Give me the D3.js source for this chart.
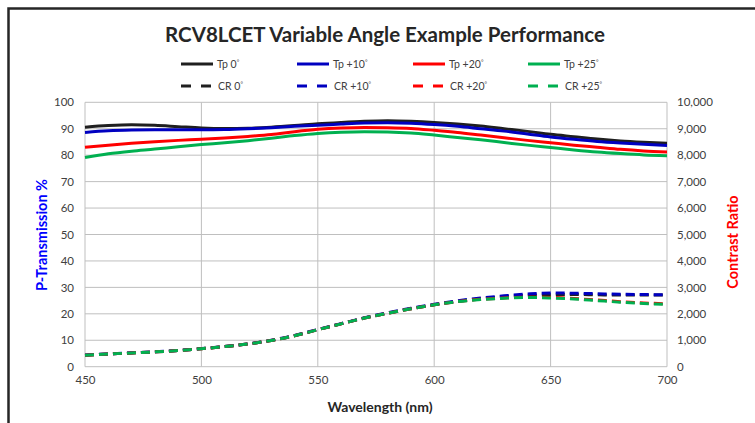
<!DOCTYPE html>
<html><head><meta charset="utf-8">
<script src="https://cdn.jsdelivr.net/npm/d3@7"></script>
<style>body{margin:0;background:#fff}svg{display:block}</style>
</head><body><svg id="c" width="755" height="423"></svg>
<script>
const wavelengths = [450,460,470,480,490,500,510,520,530,540,550,560,570,580,590,600,610,620,630,640,650,660,670,680,690,700];
const tp0  = [90.6,91.2,91.5,91.3,90.8,90.3,90.1,90.2,90.6,91.2,91.9,92.4,92.8,93.0,92.8,92.4,91.8,91.0,90.0,89.0,87.9,87.0,86.1,85.4,84.9,84.5];
const tp10 = [88.6,89.2,89.5,89.6,89.6,89.6,89.7,90.0,90.4,90.9,91.3,91.8,92.2,92.3,92.1,91.6,90.9,90.0,89.1,88.0,86.9,86.0,85.2,84.6,84.1,83.7];
const tp20 = [83.0,83.8,84.5,85.1,85.6,86.0,86.5,87.1,87.8,88.9,89.8,90.3,90.5,90.4,90.1,89.4,88.6,87.6,86.6,85.6,84.7,83.8,83.0,82.2,81.6,81.2];
const tp25 = [79.1,80.5,81.5,82.3,83.2,84.0,84.7,85.5,86.4,87.4,88.2,88.7,88.9,88.8,88.4,87.6,86.7,85.8,84.8,83.8,82.9,82.0,81.2,80.6,80.1,79.8];
const cr0  = [430,480,520,560,610,680,760,860,990,1170,1400,1620,1840,2020,2190,2340,2470,2570,2650,2700,2720,2730,2720,2710,2710,2710];
const cr10 = [440,485,525,565,615,685,765,865,1000,1180,1410,1630,1850,2040,2210,2360,2490,2600,2680,2750,2790,2780,2760,2740,2730,2720];
const cr20 = [430,480,520,560,610,680,760,860,990,1170,1400,1620,1840,2020,2190,2340,2460,2550,2600,2630,2620,2580,2520,2460,2410,2380];
const cr25 = [430,480,520,560,610,680,760,860,990,1170,1400,1620,1840,2020,2190,2340,2460,2540,2590,2620,2600,2560,2500,2440,2390,2360];
const xTicks = [450,500,550,600,650,700];
const yTicks = [0,10,20,30,40,50,60,70,80,90,100];
const y2Ticks = [0,1000,2000,3000,4000,5000,6000,7000,8000,9000,10000];
const seriesNames = ["Tp 0","Tp +10","Tp +20","Tp +25","CR 0","CR +10","CR +20","CR +25"];
const colors = ["#1f1f1f","#0000c0","#ff0000","#00b050"];

const svg = d3.select("#c");
const FONT = "Lato, 'Open Sans', sans-serif";
const L = 85, R = 667, T = 102.3, B = 366.7;
const x = d3.scaleLinear().domain([450,700]).range([L,R]);
const y = d3.scaleLinear().domain([0,100]).range([B,T]);
const y2 = d3.scaleLinear().domain([0,10000]).range([B,T]);

// outer border
svg.append("path").attr("d","M8.5,430 L8.5,8.5 L760,8.5").attr("fill","none").attr("stroke","#262626").attr("stroke-width",2.5);

// title
svg.append("text").attr("x",385).attr("y",42).attr("text-anchor","middle")
  .attr("font-family",FONT).attr("font-weight","bold").attr("font-size",20.5).attr("fill","#262626")
  .text("RCV8LCET Variable Angle Example Performance");

// grid
const grid = svg.append("g");
yTicks.forEach(t=>grid.append("line").attr("x1",L).attr("x2",R).attr("y1",y(t)).attr("y2",y(t)).attr("stroke","#bfbfbf").attr("stroke-width",1));
xTicks.forEach(t=>grid.append("line").attr("x1",x(t)).attr("x2",x(t)).attr("y1",T).attr("y2",B).attr("stroke","#bfbfbf").attr("stroke-width",1));

// axes
const ax = svg.append("g").attr("transform",`translate(0,${B})`).call(d3.axisBottom(x).tickValues(xTicks).tickSize(0).tickPadding(9));
const ay = svg.append("g").attr("transform",`translate(${L},0)`).call(d3.axisLeft(y).tickValues(yTicks).tickSize(0).tickPadding(11));
const ay2 = svg.append("g").attr("transform",`translate(${R},0)`).call(d3.axisRight(y2).tickValues(y2Ticks).tickSize(0).tickPadding(10).tickFormat(d3.format(",")));
[ax,ay,ay2].forEach(a=>{a.selectAll("text").attr("font-family",FONT).attr("font-size",11.5).attr("fill","#404040");a.select(".domain").remove();});

// axis titles
svg.append("text").attr("x",380).attr("y",412).attr("text-anchor","middle").attr("font-family",FONT).attr("font-weight","bold").attr("font-size",14).attr("fill","#262626").text("Wavelength (nm)");
svg.append("text").attr("transform","translate(47,235) rotate(-90)").attr("text-anchor","middle").attr("font-family",FONT).attr("font-weight","bold").attr("font-size",14.5).attr("fill","#0000ff").text("P-Transmission %");
svg.append("text").attr("transform","translate(738,242) rotate(-90)").attr("text-anchor","middle").attr("font-family",FONT).attr("font-weight","bold").attr("font-size",14.5).attr("fill","#ff0000").text("Contrast Ratio");

// lines
const tpData = [tp0,tp10,tp20,tp25];
const crData = [cr0,cr10,cr20,cr25];
const lineTp = d3.line().x((d,i)=>x(wavelengths[i])).y(d=>y(d)).curve(d3.curveMonotoneX);
const lineCr = d3.line().x((d,i)=>x(wavelengths[i])).y(d=>y2(d)).curve(d3.curveMonotoneX);
crData.forEach((s,i)=>svg.append("path").attr("d",lineCr(s)).attr("fill","none").attr("stroke",colors[i]).attr("stroke-width",3).attr("stroke-dasharray","9,5"));
tpData.forEach((s,i)=>svg.append("path").attr("d",lineTp(s)).attr("fill","none").attr("stroke",colors[i]).attr("stroke-width",3));

// legend
const legX = [181,297,413,528];
const legY = [64,86];
seriesNames.forEach((name,k)=>{
  const col = k%4, row = Math.floor(k/4);
  const lx = legX[col], ly = legY[row];
  svg.append("line").attr("x1",lx).attr("x2",lx+32).attr("y1",ly).attr("y2",ly)
    .attr("stroke",colors[col]).attr("stroke-width",3).attr("stroke-dasharray",row? "10,10":null);
  const t = svg.append("text").attr("x",row? lx+37: lx+36).attr("y",ly+3.5).attr("font-family",FONT).attr("font-size",10.5).attr("fill","#404040");
  t.append("tspan").text(name);
  t.append("tspan").attr("font-size",6).attr("dy",-4).text("°");
});
</script></body></html>
